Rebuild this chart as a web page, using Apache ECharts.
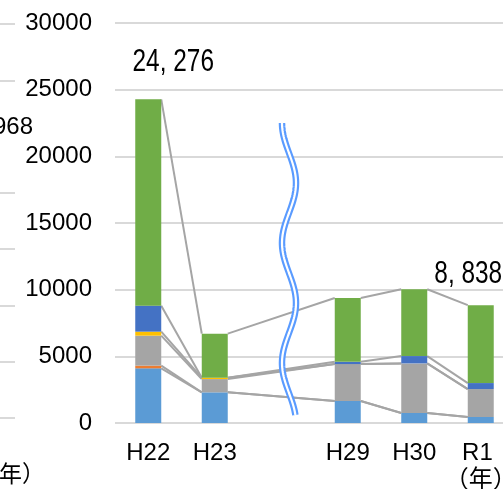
<!DOCTYPE html>
<html>
<head>
<meta charset="utf-8">
<script src="https://cdn.jsdelivr.net/npm/echarts@6/dist/echarts.min.js"></script>
<style>
  html, body { margin: 0; padding: 0; background: #fff; }
  #chart { width: 503px; height: 489px; }
</style>
</head>
<body>
<div id="chart"></div>
<script>
// Fiscal years (the blank slot marks the omitted years between H23 and H29)
const categories = ['H22', 'H23', '', 'H29', 'H30', 'R1'];

// Stacked components, bottom to top
const lightBlue = [4100, 2300, null, 1650, 750, 450];
const orange    = [200, 0, null, 0, 0, 0];
const gray      = [2250, 995, null, 2770, 3720, 2095];
const yellow    = [300, 100, null, 0, 0, 0];
const darkBlue  = [1950, 0, null, 170, 550, 450];
const green     = [15476, 3305, null, 4790, 5015, 5843];

// Value axis range
const yMin = 0, yMax = 30000, yStep = 5000;

// Bars whose total is written above them
const labelledBars = [0, 5];

const stackList = [lightBlue, orange, gray, yellow, darkBlue, green];
const colors = ['#5B9BD5', '#ED7D31', '#A5A5A5', '#FFC000', '#4472C4', '#70AD47'];

const totals = categories.map((_, i) =>
  stackList[0][i] == null ? null : stackList.reduce((s, arr) => s + arr[i], 0));

function fmt(v) {
  return String(v).replace(/\B(?=(\d{3})+(?!\d))/g, ', ');
}

// Series lines: join each component's cumulative top between neighbouring bars
const present = categories.map((_, i) => i).filter(i => totals[i] != null);
const connectorData = [];
for (let p = 0; p + 1 < present.length; p++) {
  const a = present[p], b = present[p + 1];
  let ca = 0, cb = 0;
  stackList.forEach(arr => {
    ca += arr[a]; cb += arr[b];
    connectorData.push([a, b, ca, cb]);
  });
}

const BAR_W = 26;
const axisFont = '"Liberation Sans", "Noto Sans CJK JP", sans-serif';
// placement of each total label relative to its bar top (px)
const totalLabelShift = { 0: [25, -37], 5: [-12.5, -31] };

const names = ['a', 'b', 'c', 'd', 'e', 'f'];
const barSeries = stackList.map((arr, k) => ({
  type: 'bar',
  name: names[k],
  stack: 'total',
  barWidth: BAR_W,
  itemStyle: { color: colors[k] },
  z: 3,
  data: arr.map(v => (v == null ? '-' : v))
}));

// Wavy break symbol between H23 and H29
const wave = [];
for (let y = 123; y <= 415; y += 2) {
  wave.push([289 - 7 * Math.cos(2 * Math.PI * (y - 123) / 120), y]);
}

const chart = echarts.init(document.getElementById('chart'), null, { renderer: 'canvas' });
chart.setOption({
  animation: false,
  backgroundColor: '#fff',
  grid: [
    { left: 115, top: 23, width: 399, height: 400, outerBoundsMode: 'none', containLabel: false },
    { left: -300, top: 24, width: 315, height: 394, outerBoundsMode: 'none', containLabel: false }
  ],
  xAxis: [
    {
      gridIndex: 0,
      type: 'category',
      data: categories,
      axisLine: { show: false },
      axisTick: { show: false },
      axisLabel: {
        interval: 0,
        margin: 17,
        fontFamily: axisFont,
        fontSize: 24,
        lineHeight: 27,
        color: '#000',
        formatter: v => (v === 'R1' ? 'R1 \n（年）' : v)
      }
    },
    { gridIndex: 1, type: 'value', show: false, min: 0, max: 1 }
  ],
  yAxis: [
    {
      gridIndex: 0,
      type: 'value',
      min: yMin, max: yMax, interval: yStep,
      axisLine: { show: false },
      axisTick: { show: false },
      axisLabel: { margin: 23, fontFamily: axisFont, fontSize: 24, color: '#000', formatter: v => String(v) },
      splitLine: { lineStyle: { color: '#D9D9D9', width: 2 } }
    },
    {
      gridIndex: 1,
      type: 'value',
      min: 0, max: 7, interval: 1,
      axisLine: { show: false },
      axisTick: { show: false },
      axisLabel: { show: false },
      splitLine: { lineStyle: { color: '#D9D9D9', width: 2 } }
    }
  ],
  series: [
    {
      type: 'custom',
      xAxisIndex: 0, yAxisIndex: 0,
      z: 2,
      encode: { x: [0, 1], y: [2, 3] },
      data: connectorData,
      renderItem: (params, api) => {
        const p1 = api.coord([api.value(0), api.value(2)]);
        const p2 = api.coord([api.value(1), api.value(3)]);
        return {
          type: 'line',
          shape: { x1: p1[0] + BAR_W / 2, y1: p1[1], x2: p2[0] - BAR_W / 2, y2: p2[1] },
          style: { stroke: '#A5A5A5', lineWidth: 2 }
        };
      }
    },
    ...barSeries,
    {
      // condensed total labels above the chosen bars
      type: 'custom',
      xAxisIndex: 0, yAxisIndex: 0,
      z: 10,
      encode: { x: 0, y: 1 },
      data: labelledBars.map(i => [i, totals[i]]),
      renderItem: (params, api) => {
        const i = api.value(0);
        const p = api.coord([i, api.value(1)]);
        const s = totalLabelShift[i];
        return {
          type: 'text',
          x: p[0] + s[0],
          y: p[1] + s[1],
          scaleX: 0.8,
          style: {
            text: fmt(api.value(1)),
            x: 0, y: 0,
            align: 'center', verticalAlign: 'middle',
            fontFamily: '"Liberation Sans", sans-serif',
            fontSize: 30.5,
            fill: '#000'
          }
        };
      }
    }
  ],
  graphic: [
    { type: 'polyline', z: 100, shape: { points: wave, smooth: 0 }, style: { stroke: '#5A9BFF', lineWidth: 6.5, fill: null } },
    { type: 'polyline', z: 101, shape: { points: wave, smooth: 0 }, style: { stroke: '#fff', lineWidth: 2.2, fill: null } },
    {
      type: 'text', z: 100, x: 33, y: 127.5,
      style: {
        text: '968', fontFamily: axisFont, fontSize: 24, fill: '#000',
        align: 'right', verticalAlign: 'middle',
        backgroundColor: '#fff', padding: [1, 0, 3, 0]
      }
    },
    {
      type: 'text', z: 100, x: -24, y: 473,
      style: {
        text: '（年）', fontFamily: '"Noto Sans CJK JP", sans-serif', fontSize: 23, fill: '#000',
        align: 'left', verticalAlign: 'middle'
      }
    }
  ]
});
</script>
</body>
</html>
